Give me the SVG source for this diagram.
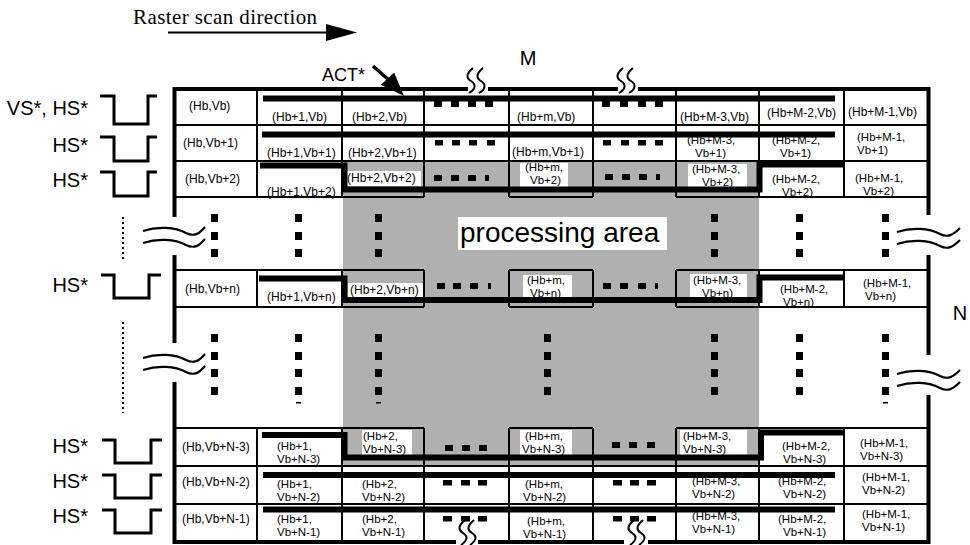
<svg xmlns="http://www.w3.org/2000/svg" width="970" height="545" viewBox="0 0 970 545">
<style>
.t{font-family:"Liberation Sans",Arial,Helvetica,sans-serif;font-size:12px;fill:#000}
.t2{font-family:"Liberation Sans",Arial,Helvetica,sans-serif;font-size:11.5px;fill:#000}
.lbl{font-family:"Liberation Sans",Arial,Helvetica,sans-serif;font-size:20px;fill:#000}
.grid{stroke:#000;stroke-width:2;fill:none}
.frame{stroke:#000;stroke-width:4;fill:none}
.bar{stroke:#000;stroke-width:6;fill:none;stroke-linejoin:miter}
.pulse{stroke:#000;stroke-width:3;fill:none;stroke-linejoin:miter}
.sq{fill:#000}
.wb{fill:#fff}
.wave{stroke:#000;stroke-width:2.2;fill:none}
.sq2{stroke:#000;stroke-width:2;fill:none}
.dot{stroke:#000;stroke-width:2;stroke-dasharray:2 3;fill:none}
.gray{fill:#b0b0b0}
</style>
<rect width="970" height="545" fill="#fff"/>

<!-- title arrow -->
<g id="raster-direction">
<text x="133" y="24" style="font-family:'Liberation Serif','Times New Roman',serif;font-size:21px;letter-spacing:0.4px">Raster scan direction</text>
<line x1="168" y1="32.5" x2="330" y2="32.5" stroke="#000" stroke-width="2"/>
<polygon points="326,24 357,32.5 326,41" fill="#000"/>
</g>

<!-- processing area background -->
<g id="processing-area">
<rect class="gray" x="343" y="162" width="416" height="304"/>
<rect class="wb" x="458" y="217" width="209" height="33"/>
<text x="460" y="242" style="font-family:'Liberation Sans',Arial,sans-serif;font-size:28px">processing area</text>
</g>

<!-- cells: row Vb -->
<g id="c-hb-vb"><text class="t" x="189" y="110">(Hb,Vb)</text></g>
<g id="c-hb1-vb"><text class="t" x="272" y="121">(Hb+1,Vb)</text></g>
<g id="c-hb2-vb"><text class="t" x="352" y="121">(Hb+2,Vb)</text></g>
<g id="c-hbm-vb"><text class="t" x="517" y="121">(Hb+m,Vb)</text></g>
<g id="c-hbM3-vb"><text class="t" x="680" y="121">(Hb+M-3,Vb)</text></g>
<g id="c-hbM2-vb"><text class="t" x="767" y="117">(Hb+M-2,Vb)</text></g>
<g id="c-hbM1-vb"><text class="t" x="848" y="116">(Hb+M-1,Vb)</text></g>

<!-- row Vb+1 -->
<g id="c-hb-vb1"><text class="t" x="183" y="147">(Hb,Vb+1)</text></g>
<g id="c-hb1-vb1"><text class="t" x="267" y="157">(Hb+1,Vb+1)</text></g>
<g id="c-hb2-vb1"><text class="t" x="348" y="157">(Hb+2,Vb+1)</text></g>
<g id="c-hbm-vb1"><text class="t" x="512" y="156">(Hb+m,Vb+1)</text></g>
<g id="c-hbM3-vb1"><text class="t2"><tspan x="687" y="144">(Hb+M-3,</tspan><tspan x="695" y="157">Vb+1)</tspan></text></g>
<g id="c-hbM2-vb1"><text class="t2"><tspan x="772" y="144">(Hb+M-2,</tspan><tspan x="780" y="157">Vb+1)</tspan></text></g>
<g id="c-hbM1-vb1"><text class="t2"><tspan x="857" y="141">(Hb+M-1,</tspan><tspan x="857" y="154">Vb+1)</tspan></text></g>

<!-- row Vb+2 -->
<g id="c-hb-vb2"><text class="t" x="185" y="183">(Hb,Vb+2)</text></g>
<g id="c-hb1-vb2"><text class="t" x="267" y="196">(Hb+1,Vb+2)</text></g>
<g id="c-hb2-vb2"><rect class="wb" x="346" y="171" width="75" height="15"/><text class="t" x="347" y="182">(Hb+2,Vb+2)</text></g>
<g id="c-hbm-vb2"><rect class="wb" x="520" y="163" width="48" height="24"/><text class="t2"><tspan x="525" y="171">(Hb+m,</tspan><tspan x="530" y="184">Vb+2)</tspan></text></g>
<g id="c-hbM3-vb2"><rect class="wb" x="688" y="164" width="59" height="27"/><text class="t2"><tspan x="692" y="173">(Hb+M-3,</tspan><tspan x="702" y="186">Vb+2)</tspan></text></g>
<g id="c-hbM2-vb2"><text class="t2"><tspan x="772" y="183">(Hb+M-2,</tspan><tspan x="782" y="196">Vb+2)</tspan></text></g>
<g id="c-hbM1-vb2"><text class="t2"><tspan x="855" y="182">(Hb+M-1,</tspan><tspan x="863" y="195">Vb+2)</tspan></text></g>

<!-- row Vb+n -->
<g id="c-hb-vbn"><text class="t" x="185" y="293">(Hb,Vb+n)</text></g>
<g id="c-hb1-vbn"><text class="t" x="267" y="301">(Hb+1,Vb+n)</text></g>
<g id="c-hb2-vbn"><rect class="wb" x="348" y="283" width="75" height="14"/><text class="t" x="350" y="294">(Hb+2,Vb+n)</text></g>
<g id="c-hbm-vbn"><rect class="wb" x="523" y="275" width="49" height="23"/><text class="t2"><tspan x="527" y="284">(Hb+m,</tspan><tspan x="530" y="297">Vb+n)</tspan></text></g>
<g id="c-hbM3-vbn"><rect class="wb" x="690" y="274" width="57" height="24"/><text class="t2"><tspan x="693" y="284">(Hb+M-3,</tspan><tspan x="702" y="297">Vb+n)</tspan></text></g>
<g id="c-hbM2-vbn"><text class="t2"><tspan x="780" y="293">(Hb+M-2,</tspan><tspan x="783" y="306">Vb+n)</tspan></text></g>
<g id="c-hbM1-vbn"><text class="t2"><tspan x="863" y="287">(Hb+M-1,</tspan><tspan x="865" y="300">Vb+n)</tspan></text></g>

<!-- row Vb+N-3 -->
<g id="c-hb-vbN3"><text class="t" x="182" y="451">(Hb,Vb+N-3)</text></g>
<g id="c-hb1-vbN3"><text class="t2"><tspan x="277" y="450">(Hb+1,</tspan><tspan x="277" y="463">Vb+N-3)</tspan></text></g>
<g id="c-hb2-vbN3"><rect class="wb" x="362" y="430" width="50" height="27"/><text class="t2"><tspan x="363" y="440">(Hb+2,</tspan><tspan x="363" y="453">Vb+N-3)</tspan></text></g>
<g id="c-hbm-vbN3"><rect class="wb" x="520" y="430" width="52" height="27"/><text class="t2"><tspan x="525" y="440">(Hb+m,</tspan><tspan x="522" y="453">Vb+N-3)</tspan></text></g>
<g id="c-hbM3-vbN3"><rect class="wb" x="680" y="430" width="67" height="27"/><text class="t2"><tspan x="683" y="440">(Hb+M-3,</tspan><tspan x="683" y="453">Vb+N-3)</tspan></text></g>
<g id="c-hbM2-vbN3"><text class="t2"><tspan x="782" y="450">(Hb+M-2,</tspan><tspan x="783" y="463">Vb+N-3)</tspan></text></g>
<g id="c-hbM1-vbN3"><text class="t2"><tspan x="860" y="447">(Hb+M-1,</tspan><tspan x="860" y="460">Vb+N-3)</tspan></text></g>

<!-- row Vb+N-2 -->
<g id="c-hb-vbN2"><text class="t" x="182" y="486">(Hb,Vb+N-2)</text></g>
<g id="c-hb1-vbN2"><text class="t2"><tspan x="277" y="488">(Hb+1,</tspan><tspan x="277" y="501">Vb+N-2)</tspan></text></g>
<g id="c-hb2-vbN2"><text class="t2"><tspan x="362" y="488">(Hb+2,</tspan><tspan x="362" y="501">Vb+N-2)</tspan></text></g>
<g id="c-hbm-vbN2"><text class="t2"><tspan x="525" y="488">(Hb+m,</tspan><tspan x="523" y="501">Vb+N-2)</tspan></text></g>
<g id="c-hbM3-vbN2"><text class="t2"><tspan x="692" y="485">(Hb+M-3,</tspan><tspan x="692" y="498">Vb+N-2)</tspan></text></g>
<g id="c-hbM2-vbN2"><text class="t2"><tspan x="778" y="485">(Hb+M-2,</tspan><tspan x="783" y="498">Vb+N-2)</tspan></text></g>
<g id="c-hbM1-vbN2"><text class="t2"><tspan x="862" y="481">(Hb+M-1,</tspan><tspan x="862" y="494">Vb+N-2)</tspan></text></g>

<!-- row Vb+N-1 -->
<g id="c-hb-vbN1"><text class="t" x="182" y="523">(Hb,Vb+N-1)</text></g>
<g id="c-hb1-vbN1"><text class="t2"><tspan x="277" y="523">(Hb+1,</tspan><tspan x="277" y="536">Vb+N-1)</tspan></text></g>
<g id="c-hb2-vbN1"><text class="t2"><tspan x="362" y="523">(Hb+2,</tspan><tspan x="362" y="536">Vb+N-1)</tspan></text></g>
<g id="c-hbm-vbN1"><text class="t2"><tspan x="527" y="525">(Hb+m,</tspan><tspan x="523" y="538">Vb+N-1)</tspan></text></g>
<g id="c-hbM3-vbN1"><text class="t2"><tspan x="692" y="520">(Hb+M-3,</tspan><tspan x="692" y="533">Vb+N-1)</tspan></text></g>
<g id="c-hbM2-vbN1"><text class="t2"><tspan x="778" y="523">(Hb+M-2,</tspan><tspan x="783" y="536">Vb+N-1)</tspan></text></g>
<g id="c-hbM1-vbN1"><text class="t2"><tspan x="862" y="518">(Hb+M-1,</tspan><tspan x="862" y="531">Vb+N-1)</tspan></text></g>

<!-- grid -->
<g id="grid">
<path class="grid" d="M173,125H928M173,161H928M173,197H424M509,197H593M676,197H928
M257,88V197M342,88V197M424,88V197M509,88V197M593,88V197M676,88V197M759,88V197M844,88V197
M173,270H424M509,270H593M676,270H928M173,307H424M509,307H593M676,307H928
M257,270V307M342,270V307M424,270V307M509,270V307M593,270V307M676,270V307M759,270V307M844,270V307
M173,428H424M509,428H593M676,428H928M173,466H928M173,504H928
M257,428V541M342,428V541M424,428V541M509,428V541M593,428V541M676,428V541M759,428V541M844,428V541"/>
<path class="frame" d="M172.5,89H468M488,89H618M638,89H930.5
M174.5,87V217M174.5,255V343M174.5,382V544
M928.5,87V215M928.5,255V355M928.5,395V544
M172.5,542H456M478,542H624M648,542H930.5"/>
</g>

<!-- break marks -->
<g id="breaks">
<path class="sq2" d="M473,68C466,74 466,78 471,81C476,84 476,89 469,93M483,68C476,74 476,78 481,81C486,84 486,89 479,93"/>
<path class="sq2" d="M623,68C616,74 616,78 621,81C626,84 626,89 619,93M633,68C626,74 626,78 631,81C636,84 636,89 629,93"/>
<path class="sq2" d="M465,520C458,526 458,530 463,533C468,536 468,540 461,545M474,520C467,526 467,530 472,533C477,536 477,540 470,545"/>
<path class="sq2" d="M634,520C627,526 627,530 632,533C637,536 637,540 630,545M643,520C636,526 636,530 641,533C646,536 646,540 639,545"/>
<path class="wave" d="M143,231C158,226 175,227 186,233C194,237 199,234 205,227M143,243C158,238 175,239 186,245C194,249 199,246 205,239"/>
<path class="wave" d="M143,358C158,353 175,354 186,360C194,364 199,361 205,354M143,370C158,365 175,366 186,372C194,376 199,373 205,366"/>
<path class="wave" d="M897,232C912,227 929,228 940,234C948,238 953,235 960,228M897,244C912,239 929,240 940,246C948,250 953,247 960,240"/>
<path class="wave" d="M897,374C912,369 929,370 940,376C948,380 953,377 960,370M897,386C912,381 929,382 940,388C948,392 953,389 960,382"/>
<path class="dot" d="M123,217V262M123,322V413"/>
</g>

<!-- scan path (connectors) -->
<g id="scan-path">
<path class="bar" d="M263,98.5H835"/>
<path class="bar" d="M262,134.5H835"/>
<path class="bar" d="M260,165.5H344.5V189.5H759.5V164.5H843"/>
<path class="bar" d="M259,278.5H344.5V300H759.5V277.5H843"/>
<path class="bar" d="M262,435H344.5V457.5H761V432.5H843"/>
<path class="bar" d="M263,475H835"/>
<path class="bar" d="M263,509.5H835"/>
</g>

<!-- ellipsis marks -->
<g id="ellipsis-h">
<path class="sq" d="M434,101h8v6h-8zM451,101h8v6h-8zM468,101h8v6h-8zM485,101h8v6h-8z
M602,101h8v6h-8zM620,101h8v6h-8zM638,101h8v6h-8zM655,101h8v6h-8z
M435,140h8v5.5h-8zM452,140h8v5.5h-8zM469,140h8v5.5h-8zM487,140h8v5.5h-8z
M603,140h8v5.5h-8zM621,140h8v5.5h-8zM638,140h8v5.5h-8zM655,140h8v5.5h-8z
M434,175h8v6h-8zM451,175h8v6h-8zM468,175h8v6h-8zM485,175h4v6h-4z
M605,174h8v6h-8zM622,174h8v6h-8zM639,174h8v6h-8zM656,174h4v6h-4z
M437,283h8v6h-8zM453,283h8v6h-8zM470,283h8v6h-8zM488,283h3v6h-3z
M603,283h8v6h-8zM620,283h8v6h-8zM638,283h8v6h-8zM655,283h3v6h-3z
M445,445h8v6h-8zM462,445h8v6h-8zM479,445h8v6h-8z
M612,442h8v6h-8zM629,442h8v6h-8zM647,442h8v6h-8z
M443,480h9v5.5h-9zM461,480h9v5.5h-9zM478,480h9v5.5h-9z
M613,480h9v5.5h-9zM630,480h9v5.5h-9zM647,480h9v5.5h-9z
M443,516h9v5.5h-9zM461,516h9v5.5h-9zM478,516h9v5.5h-9z
M613,516h9v5.5h-9zM630,516h9v5.5h-9zM647,516h9v5.5h-9z"/>
</g>
<g id="ellipsis-v">
<path class="sq" d="M211,214h7v8h-7zM211,232h7v8h-7zM211,249h7v8h-7z
M295,214h7v8h-7zM295,232h7v8h-7zM295,249h7v8h-7z
M375,214h7v8h-7zM375,232h7v8h-7zM375,249h7v8h-7z
M711,214h7v8h-7zM711,232h7v8h-7zM711,249h7v8h-7z
M796,214h7v8h-7zM796,232h7v8h-7zM796,249h7v8h-7z
M882,214h7v8h-7zM882,232h7v8h-7zM882,249h7v8h-7z
M211,334h7v8h-7zM211,352h7v8h-7zM211,369h7v8h-7zM211,387h7v8h-7z
M295,334h7v8h-7zM295,352h7v8h-7zM295,369h7v8h-7zM295,387h7v8h-7zM296,402h5v1.5h-5z
M375,334h7v8h-7zM375,352h7v8h-7zM375,369h7v8h-7zM375,387h7v8h-7zM376,402h5v1.5h-5z
M544,334h7v8h-7zM544,352h7v8h-7zM544,369h7v8h-7zM544,387h7v8h-7z
M711,334h7v8h-7zM711,352h7v8h-7zM711,369h7v8h-7zM711,387h7v8h-7z
M796,334h7v8h-7zM796,352h7v8h-7zM796,369h7v8h-7zM796,387h7v8h-7z
M882,334h7v8h-7zM882,352h7v8h-7zM882,369h7v8h-7zM882,387h7v8h-7zM883,402h5v1.5h-5z"/>
</g>

<!-- sync signals -->
<g id="sync-signals">
<text class="lbl" x="88" y="115" text-anchor="end">VS*, HS*</text>
<text class="lbl" x="88" y="152" text-anchor="end">HS*</text>
<text class="lbl" x="88" y="187" text-anchor="end">HS*</text>
<text class="lbl" x="88" y="292" text-anchor="end">HS*</text>
<text class="lbl" x="88" y="453" text-anchor="end">HS*</text>
<text class="lbl" x="88" y="488" text-anchor="end">HS*</text>
<text class="lbl" x="88" y="523" text-anchor="end">HS*</text>
<path class="pulse" d="M100,96H114V124H148V96H157"/>
<path class="pulse" d="M100,137H114V161H148V137H157"/>
<path class="pulse" d="M100,172H114V196H148V172H157"/>
<path class="pulse" d="M101,275H114V298H149V275H161"/>
<path class="pulse" d="M102,440H115V463H151V440H162"/>
<path class="pulse" d="M102,475H115V498H151V475H162"/>
<path class="pulse" d="M102,510H115V533H151V510H162"/>
</g>

<!-- labels -->
<g id="act">
<text x="322" y="81" style="font-family:'Liberation Sans',Arial,sans-serif;font-size:18px">ACT*</text>
<line x1="373" y1="66" x2="390" y2="81" stroke="#000" stroke-width="3.5"/>
<polygon points="404,96 380.9,84.8 394.1,72.4" fill="#000"/>
</g>
<g id="dim-labels">
<text x="528" y="65" text-anchor="middle" style="font-family:'Liberation Sans',Arial,sans-serif;font-size:20px">M</text>
<text x="960" y="320" text-anchor="middle" style="font-family:'Liberation Sans',Arial,sans-serif;font-size:20px">N</text>
</g>
</svg>
